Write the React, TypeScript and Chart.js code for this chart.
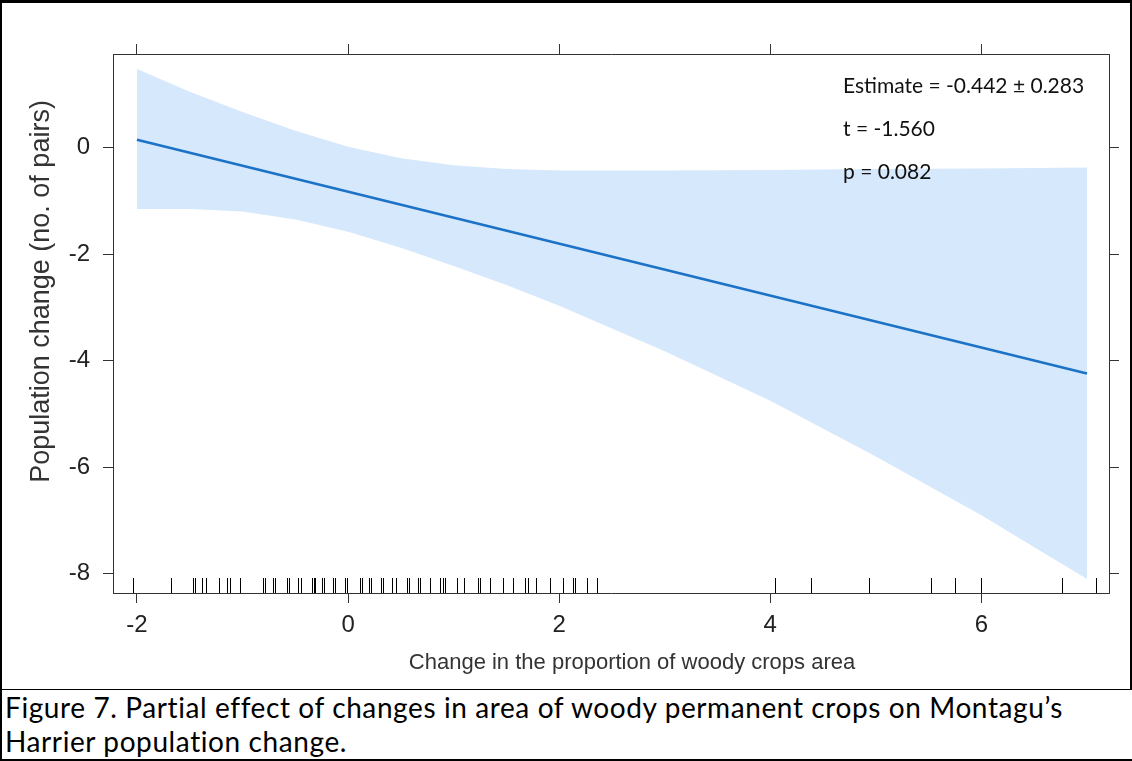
import React, { useEffect, useRef } from 'react';
import { Chart, registerables } from 'chart.js';

Chart.register(...registerables);

// ---- data ----
const xRange = [-2.227, 7.209];
const yRange = [-8.362, 1.76];

const bandX = [-2, -1.5, -1, -0.5, 0, 0.5, 1, 1.5, 2, 3, 4, 5, 6, 7];
const bandUpper = [1.48, 1.05, 0.67, 0.32, 0.02, -0.2, -0.33, -0.4, -0.43, -0.43, -0.42, -0.4, -0.39, -0.37];
const bandLower = [-1.15, -1.15, -1.2, -1.35, -1.58, -1.88, -2.22, -2.58, -2.97, -3.82, -4.75, -5.8, -6.9, -8.1];

const fitX = [-2, 7];
const fitY = [0.15, -4.24];

const rugX = [
  -2.04, -1.68, -1.47, -1.45, -1.38, -1.35, -1.22, -1.15, -1.12, -1.02,
  -0.81, -0.79, -0.71, -0.69, -0.58, -0.56, -0.47, -0.45, -0.34, -0.32, -0.31,
  -0.25, -0.23, -0.14, -0.12, -0.03, -0.01, 0.11, 0.13, 0.2, 0.22, 0.31, 0.33,
  0.42, 0.45, 0.56, 0.58, 0.66, 0.68, 0.78, 0.87, 0.9, 0.92, 1.03, 1.1, 1.23, 1.25,
  1.34, 1.47, 1.56, 1.68, 1.7, 1.78, 1.91, 2.04, 2.13, 2.15, 2.26, 2.36,
  4.04, 4.39, 4.94, 5.52, 5.75, 6.0, 6.76, 7.09,
];

const statLines = ['Estimate = -0.442 \u00b1 0.283', 't = -1.560', 'p = 0.082'];
const xTitle = 'Change in the proportion of woody crops area';
const yTitle = 'Population change (no. of pairs)';
const captionLines = [
  'Figure 7. Partial effect of changes in area of woody permanent crops on Montagu\u2019s',
  'Harrier population change.',
];

const toPoints = (xs: number[], ys: number[]) => xs.map((x, i) => ({ x, y: ys[i] }));

const overlayPlugin = {
  id: 'overlay',
  afterDatasetsDraw(chart: any) {
    const { ctx, chartArea, scales } = chart;
    const xs = scales.x;
    ctx.save();
    // rug
    ctx.strokeStyle = '#000';
    ctx.lineWidth = 1;
    for (const v of rugX) {
      const px = Math.round(xs.getPixelForValue(v)) + 0.5;
      ctx.beginPath();
      ctx.moveTo(px, chartArea.bottom);
      ctx.lineTo(px, chartArea.bottom - 15);
      ctx.stroke();
    }
    // statistics text
    ctx.fillStyle = '#111';
    ctx.font = '21px Lato';
    ctx.textAlign = 'left';
    ctx.textBaseline = 'middle';
    statLines.forEach((s, i) => ctx.fillText(s, chartArea.right - 266, chartArea.top + 32 + i * 43));
    // axis titles
    ctx.fillStyle = '#333';
    ctx.textAlign = 'center';
    ctx.font = '22px "Liberation Sans"';
    ctx.fillText(xTitle, (chartArea.left + chartArea.right) / 2 + 21, chartArea.bottom + 70);
    ctx.save();
    ctx.translate(chartArea.left - 71, (chartArea.top + chartArea.bottom) / 2 - 32);
    ctx.rotate(-Math.PI / 2);
    ctx.font = '27px "Liberation Sans"';
    ctx.fillText(yTitle, 0, 0);
    ctx.restore();
    ctx.restore();
  },
};

const axisColor = '#333333';
const tickFont = { family: 'Liberation Sans', size: 24 };

function makeX(position: 'bottom' | 'top', size: number, labels: boolean) {
  return {
    type: 'linear',
    position,
    min: xRange[0],
    max: xRange[1],
    ticks: { stepSize: 2, includeBounds: false, display: labels, font: tickFont, color: '#222', padding: 8, maxRotation: 0 },
    grid: { drawOnChartArea: false, tickLength: 10, color: axisColor, lineWidth: 1 },
    border: { display: true, color: axisColor, width: 1 },
    afterFit: (s: any) => { s.height = size; },
  };
}
function makeY(position: 'left' | 'right', size: number, labels: boolean) {
  return {
    type: 'linear',
    position,
    min: yRange[0],
    max: yRange[1],
    ticks: { stepSize: 2, includeBounds: false, display: labels, font: tickFont, color: '#222', padding: 13 },
    grid: { drawOnChartArea: false, tickLength: 10, color: axisColor, lineWidth: 1 },
    border: { display: true, color: axisColor, width: 1 },
    afterFit: (s: any) => { s.width = size; },
  };
}

export default function App() {
  const ref = useRef<HTMLCanvasElement>(null);
  useEffect(() => {
    document.body.style.margin = '0';
    const canvas = ref.current!;
    const chart = new Chart(canvas, {
      type: 'line',
      data: {
        datasets: [
          {
            data: toPoints(fitX, fitY),
            borderWidth: 2.5,
            pointRadius: 0,
            borderColor: '#1b72c6',
            fill: false,
            order: 0,
            xAxisID: 'x',
            yAxisID: 'y',
          },
          {
            data: toPoints(bandX, bandLower),
            borderWidth: 0,
            pointRadius: 0,
            borderColor: 'rgba(0,0,0,0)',
            fill: false,
            order: 1,
            xAxisID: 'x',
            yAxisID: 'y',
          },
          {
            data: toPoints(bandX, bandUpper),
            borderWidth: 0,
            pointRadius: 0,
            borderColor: 'rgba(0,0,0,0)',
            backgroundColor: '#d6e8fb',
            fill: '-1',
            order: 2,
            xAxisID: 'x',
            yAxisID: 'y',
          },
        ],
      } as any,
      options: {
        responsive: false,
        devicePixelRatio: 1,
        animation: false,
        parsing: false as any,
        layout: { padding: 0 },
        plugins: { legend: { display: false }, tooltip: { enabled: false } },
        elements: { line: { tension: 0 } },
        scales: {
          x: makeX('bottom', 97, true),
          x2: makeX('top', 54, false),
          y: makeY('left', 113, true),
          y2: makeY('right', 23, false),
        } as any,
      },
      plugins: [overlayPlugin],
    });
    return () => chart.destroy();
  }, []);

  const line = (style: React.CSSProperties) => (
    <div style={{ position: 'absolute', background: '#000', ...style }} />
  );

  return (
    <div style={{ position: 'relative', width: 1132, height: 761, overflow: 'hidden', background: '#fff' }}>
      <canvas ref={ref} width={1132} height={690} style={{ display: 'block', width: 1132, height: 690 }} />
      <div
        style={{
          position: 'absolute',
          left: 5,
          top: 690,
          fontFamily: 'Lato, "Open Sans", sans-serif',
          fontSize: 28,
          letterSpacing: '0.6px',
          lineHeight: '34px',
          color: '#000',
          whiteSpace: 'nowrap',
        }}
      >
        {captionLines.map((t, i) => (
          <div key={i}>{t}</div>
        ))}
      </div>
      {line({ left: 0, top: 0, width: 1132, height: 3 })}
      {line({ left: 0, top: 0, width: 2, height: 761 })}
      {line({ left: 1130, top: 0, width: 2, height: 690 })}
      {line({ left: 0, top: 689, width: 1132, height: 1 })}
      {line({ left: 0, top: 759, width: 1132, height: 2 })}
    </div>
  );
}
